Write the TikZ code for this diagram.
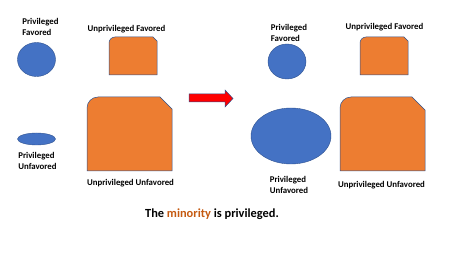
\documentclass[tikz,border=0pt]{standalone}
\usepackage{fontspec}
\setmainfont{Carlito}
\usetikzlibrary{shapes.geometric}
\definecolor{shapeblue}{HTML}{4472C4}
\definecolor{edgeblue}{HTML}{2F528F}
\definecolor{shapeorange}{HTML}{ED7D31}
\definecolor{textorange}{HTML}{C55A11}
\begin{document}
\begin{tikzpicture}[x=1pt,y=-1pt,
  lbl/.style={inner sep=0pt,align=left,font=\bfseries\fontsize{8.8}{11}\selectfont},
  blob/.style={fill=shapeblue,draw=edgeblue,line width=0.4pt},
  slab/.style={fill=shapeorange,draw=edgeblue,line width=0.5pt},
  bigarrow/.style={fill=red,draw=edgeblue,line width=0.5pt}]
\useasboundingbox (0,0) rectangle (464,254);
% left panel
\node[lbl] (lpf) at (40.5,26.5) {Privileged\\Favored};
\node[blob,ellipse,minimum width=38,minimum height=34,inner sep=0] (lc) at (36.5,59.5) {};
\node[lbl] (luf) at (126.5,29) {Unprivileged Favored};
\path[slab] (109,75) -- (109,43) arc[start angle=180,end angle=270,radius=6] -- (153,37) -- (157,41) -- (157,75) -- cycle;
\path[slab] (87,171) -- (87,108) arc[start angle=180,end angle=270,radius=11] -- (160,97) -- (172,109) -- (172,171) -- cycle;
\node[blob,ellipse,minimum width=38,minimum height=12,inner sep=0] (le) at (36.5,139) {};
\node[lbl] (lpu) at (37.5,160.5) {Privileged\\Unfavored};
\node[lbl] (luu) at (130.5,183) {Unprivileged Unfavored};
% arrow
\path[bigarrow] (189,94) -- (225,94) -- (225,90) -- (233,98.5) -- (225,107) -- (225,102) -- (189,102) -- cycle;
% right panel
\node[lbl] (rpf) at (289,32.5) {Privileged\\Favored};
\node[blob,ellipse,minimum width=38,minimum height=35,inner sep=0] (rc) at (287,61.5) {};
\node[lbl] (ruf) at (384.5,27) {Unprivileged Favored};
\path[slab] (360,75) -- (360,43) arc[start angle=180,end angle=270,radius=6] -- (404,37) -- (408,41) -- (408,75) -- cycle;
\node[blob,ellipse,minimum width=80,minimum height=56,inner sep=0] (re) at (291,136) {};
\path[slab] (340,171) -- (340,108) arc[start angle=180,end angle=270,radius=11] -- (412,97) -- (425,110) -- (425,171) -- cycle;
\node[lbl] (rpu) at (289,184.5) {Privileged\\Unfavored};
\node[lbl] (ruu) at (381.5,185) {Unprivileged Unfavored};
% caption
\node[inner sep=0pt,font=\bfseries\fontsize{12.4}{14}\selectfont] (cap) at (212,214) {The \textcolor{textorange}{minority} is privileged.};
\end{tikzpicture}
\end{document}
